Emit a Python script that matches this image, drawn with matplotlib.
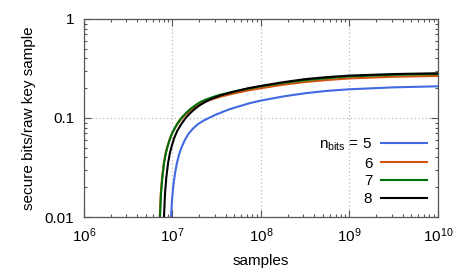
import numpy as np
import matplotlib
matplotlib.use('Agg')
import matplotlib.pyplot as plt
from matplotlib.ticker import LogLocator, FixedLocator, FixedFormatter, NullFormatter

plt.rcParams['font.family'] = ['Liberation Sans', 'DejaVu Sans']
plt.rcParams['mathtext.fontset'] = 'custom'
plt.rcParams['mathtext.rm'] = 'Liberation Sans'
plt.rcParams['mathtext.it'] = 'Liberation Sans'
plt.rcParams['font.size'] = 11

# log10(samples) and secure bits/raw key sample
logn_5 = [6.979, 6.983, 6.995, 7.01, 7.03, 7.05, 7.075, 7.104, 7.14, 7.18, 7.23, 7.29, 7.35, 7.41,
          7.49, 7.574, 7.65, 7.725, 7.80, 7.87, 8.0, 8.25, 8.5, 8.75, 9.0, 9.5, 10.0]
rate_5 = [0.006, 0.010, 0.015, 0.021, 0.028, 0.035, 0.043, 0.051, 0.060, 0.069, 0.078, 0.087, 0.094, 0.100,
          0.108, 0.116, 0.123, 0.129, 0.135, 0.141, 0.150, 0.165, 0.178, 0.188, 0.195, 0.204, 0.209]

logn_6 = [6.851, 6.856, 6.867, 6.882, 6.902, 6.922, 6.943, 6.972, 7.002, 7.052, 7.10, 7.15, 7.20, 7.25,
          7.32, 7.38, 7.44, 7.52, 7.668, 7.857, 8.0, 8.25, 8.5, 8.75, 9.0, 9.5, 10.0]
rate_6 = [0.006, 0.010, 0.017, 0.025, 0.035, 0.044, 0.052, 0.062, 0.072, 0.086, 0.098, 0.109, 0.119, 0.128,
          0.139, 0.147, 0.154, 0.162, 0.175, 0.190, 0.200, 0.217, 0.231, 0.242, 0.251, 0.261, 0.266]

logn_7 = [6.854, 6.859, 6.870, 6.885, 6.905, 6.925, 6.946, 6.975, 7.005, 7.055, 7.104, 7.155, 7.205, 7.255,
          7.32, 7.38, 7.44, 7.52, 7.668, 7.857, 8.0, 8.25, 8.5, 8.75, 9.0, 9.5, 10.0]
rate_7 = [0.006, 0.010, 0.017, 0.025, 0.035, 0.044, 0.052, 0.063, 0.073, 0.088, 0.101, 0.113, 0.124, 0.134,
          0.146, 0.154, 0.161, 0.170, 0.183, 0.198, 0.209, 0.226, 0.241, 0.253, 0.263, 0.273, 0.278]

logn_8 = [6.899, 6.904, 6.915, 6.93, 6.95, 6.97, 6.991, 7.02, 7.05, 7.10, 7.149, 7.20, 7.25, 7.30,
          7.367, 7.42, 7.48, 7.55, 7.668, 7.857, 8.0, 8.25, 8.5, 8.75, 9.0, 9.5, 10.0]
rate_8 = [0.006, 0.010, 0.017, 0.025, 0.035, 0.044, 0.052, 0.063, 0.073, 0.087, 0.100, 0.112, 0.123, 0.133,
          0.145, 0.153, 0.161, 0.170, 0.182, 0.200, 0.211, 0.230, 0.247, 0.259, 0.268, 0.278, 0.283]

series = [
    (logn_5, rate_5, '$\\mathregular{n_{bits}}$ = 5', '#4169e1'),
    (logn_6, rate_6, '6', '#d2520f'),
    (logn_7, rate_7, '7', '#00700a'),
    (logn_8, rate_8, '8', '#000000'),
]

y_ticks = [0.01, 0.1, 1]
y_tick_labels = ['0.01', '0.1', '1']

fig = plt.figure(figsize=(4.63, 2.78), dpi=100)
ax = fig.add_axes([0.1814, 0.2194, 0.7646, 0.7123])

for logn, rate, label, color in series:
    ax.plot(10 ** np.array(logn), rate, color=color, lw=1.5, label=label)

ax.set_xscale('log')
ax.set_yscale('log')
ax.set_xlim(1e6, 1e10)
ax.set_ylim(0.01, 1)

ax.xaxis.set_major_locator(LogLocator(base=10, numticks=10))
ax.xaxis.set_minor_locator(LogLocator(base=10, subs=np.arange(2, 10), numticks=20))
ax.xaxis.set_minor_formatter(NullFormatter())
ax.yaxis.set_major_locator(FixedLocator(y_ticks))
ax.yaxis.set_major_formatter(FixedFormatter(y_tick_labels))
ax.yaxis.set_minor_locator(LogLocator(base=10, subs=np.arange(2, 10), numticks=20))
ax.yaxis.set_minor_formatter(NullFormatter())

ax.tick_params(which='both', direction='in', top=True, right=True, colors='#555555', labelcolor='black')
ax.tick_params(which='major', length=5, width=0.8, pad=7)
ax.tick_params(which='minor', length=2.5, width=0.8)
for s in ax.spines.values():
    s.set_color('#555555')
    s.set_linewidth(0.9)

ax.grid(which='major', color='#bbbbbb', linestyle=(0, (1, 2)), lw=0.9)

ax.set_xlabel('samples', labelpad=6)
ax.set_ylabel('secure bits/raw key sample', labelpad=6)

ax.legend(loc='lower right', frameon=False, markerfirst=False, handlelength=3.0,
          handletextpad=0.6, labelspacing=0.25, borderaxespad=0.3, fontsize=11)

fig.savefig('out.png', dpi=100)
